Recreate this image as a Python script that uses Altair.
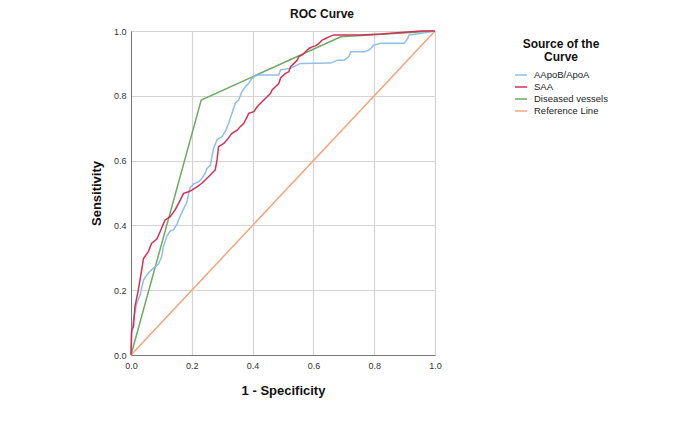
import altair as alt
import pandas as pd

series_names = ["AApoB/ApoA", "SAA", "Diseased vessels", "Reference Line"]
series_colors = ["#92bfe8", "#d62f56", "#6bab62", "#f4a47c"]

apob_x = [0, 0.002, 0.008, 0.019, 0.03, 0.041, 0.052, 0.063, 0.074, 0.09, 0.101, 0.107,
          0.118, 0.129, 0.14, 0.151, 0.162, 0.173, 0.184, 0.189, 0.195, 0.206, 0.222,
          0.233, 0.244, 0.25, 0.261, 0.266, 0.272, 0.283, 0.299, 0.31, 0.321, 0.332,
          0.343, 0.354, 0.365, 0.376, 0.387, 0.398, 0.409, 0.42, 0.486, 0.492, 0.525,
          0.536, 0.558, 0.657, 0.679, 0.701, 0.717, 0.723, 0.767, 0.783, 0.8, 0.822,
          0.899, 0.91, 0.915, 0.954, 0.987, 1.0]
apob_y = [0, 0.062, 0.108, 0.16, 0.185, 0.231, 0.247, 0.259, 0.268, 0.281, 0.303, 0.336,
          0.367, 0.383, 0.386, 0.404, 0.429, 0.451, 0.472, 0.497, 0.517, 0.528, 0.534,
          0.545, 0.561, 0.576, 0.586, 0.611, 0.639, 0.664, 0.674, 0.689, 0.715, 0.746,
          0.777, 0.787, 0.813, 0.828, 0.839, 0.854, 0.861, 0.864, 0.864, 0.88, 0.885,
          0.89, 0.9, 0.901, 0.91, 0.91, 0.921, 0.936, 0.936, 0.941, 0.957, 0.962,
          0.962, 0.977, 0.988, 0.993, 0.998, 1.0]

saa_x = [0, 0.002, 0.008, 0.013, 0.024, 0.035, 0.041, 0.057, 0.068, 0.085, 0.096, 0.112,
         0.129, 0.145, 0.162, 0.173, 0.189, 0.2, 0.217, 0.233, 0.244, 0.255, 0.266,
         0.277, 0.283, 0.288, 0.305, 0.316, 0.332, 0.349, 0.36, 0.371, 0.382, 0.387,
         0.404, 0.415, 0.426, 0.437, 0.448, 0.459, 0.464, 0.475, 0.486, 0.492, 0.508,
         0.519, 0.525, 0.536, 0.547, 0.552, 0.563, 0.574, 0.585, 0.596, 0.607, 0.618,
         0.629, 0.64, 0.651, 0.668, 0.756, 0.822, 0.91, 0.954, 1.0]
saa_y = [0, 0.077, 0.087, 0.149, 0.2, 0.262, 0.298, 0.319, 0.345, 0.358, 0.381, 0.417,
         0.427, 0.448, 0.478, 0.499, 0.504, 0.509, 0.519, 0.53, 0.54, 0.55, 0.561,
         0.571, 0.602, 0.643, 0.653, 0.664, 0.684, 0.694, 0.705, 0.715, 0.735, 0.746,
         0.751, 0.766, 0.777, 0.787, 0.797, 0.808, 0.818, 0.828, 0.838, 0.855, 0.869,
         0.874, 0.89, 0.9, 0.91, 0.921, 0.926, 0.936, 0.946, 0.951, 0.954, 0.962,
         0.972, 0.977, 0.982, 0.988, 0.988, 0.991, 0.997, 1.0, 1.0]

vessels_x = [0, 0.231, 0.69, 1.0]
vessels_y = [0, 0.787, 0.982, 1.0]

ref_x = [0, 1.0]
ref_y = [0, 1.0]

tick_values = [0.0, 0.2, 0.4, 0.6, 0.8, 1.0]

rows = []
for name, xs, ys in [("Reference Line", ref_x, ref_y),
                     ("Diseased vessels", vessels_x, vessels_y),
                     ("AApoB/ApoA", apob_x, apob_y),
                     ("SAA", saa_x, saa_y)]:
    for i, (xv, yv) in enumerate(zip(xs, ys)):
        rows.append({"series": name, "fpr": xv, "tpr": yv, "idx": i})
df = pd.DataFrame(rows)

font = "Liberation Sans"

chart = alt.Chart(df).mark_line(strokeWidth=1.5).encode(
    x=alt.X("fpr:Q",
            scale=alt.Scale(domain=[0, 1], nice=False),
            axis=alt.Axis(title="1 - Specificity", values=tick_values, format=".1f",
                          grid=True, ticks=False, labelPadding=6, titlePadding=14,
                          labelFlush=False, labelOverlap=False,
                          labelFontSize=9, titleFontSize=13, labelColor="#333333",
                          titleColor="#111111", titleFontWeight="bold",
                          domainColor="#777777", gridColor="#d4d4d4", gridWidth=1.2,
                          labelFont=font, titleFont=font)),
    y=alt.Y("tpr:Q",
            scale=alt.Scale(domain=[0, 1], nice=False),
            axis=alt.Axis(title="Sensitivity", values=tick_values, format=".1f",
                          grid=True, ticks=False, labelPadding=5, titlePadding=10,
                          labelFlush=False, labelOverlap=False,
                          labelFontSize=9, titleFontSize=13, labelColor="#333333",
                          titleColor="#111111", titleFontWeight="bold",
                          domainColor="#777777", gridColor="#d4d4d4", gridWidth=1.2,
                          labelFont=font, titleFont=font)),
    color=alt.Color("series:N",
                    scale=alt.Scale(domain=series_names, range=series_colors),
                    legend=alt.Legend(title=["Source of the", "Curve"], orient="none",
                                      legendX=383, legendY=8, padding=0,
                                      titleFontSize=12, titleFont=font,
                                      titleFontWeight="bold", titleColor="#111111",
                                      titleAlign="center", titleAnchor="middle",
                                      titleLineHeight=13, titlePadding=4,
                                      labelFontSize=9.5, labelFont=font,
                                      labelColor="#222222", labelOffset=6,
                                      symbolType="stroke", symbolSize=144,
                                      symbolStrokeWidth=1.5, rowPadding=0)),
    order="idx:Q",
).properties(
    width=304,
    height=324,
    title=alt.TitleParams("ROC Curve", font=font, fontSize=12, fontWeight="bold",
                          color="#111111", anchor="middle", dx=39, offset=6),
    padding={"left": 123, "top": 23, "right": 230, "bottom": 50},
    autosize=alt.AutoSizeParams(type="none"),
).configure_view(stroke=None)

chart.save("out.html", embed_options={"renderer": "svg", "actions": False})
